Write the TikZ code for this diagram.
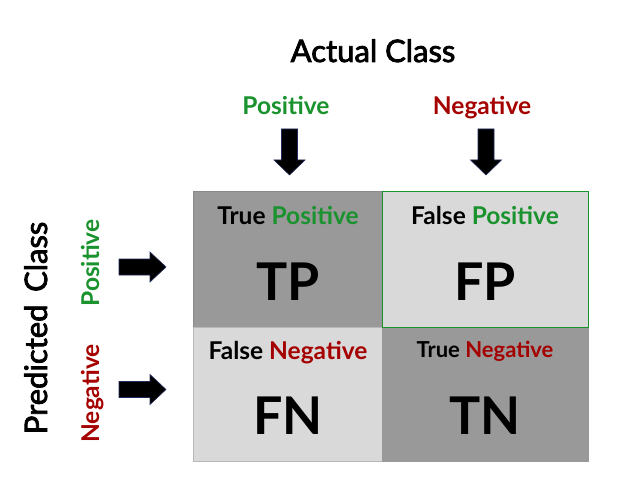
\documentclass[tikz,border=0pt]{standalone}
\usepackage{fontspec}
\setmainfont{Lato}[UprightFont=* Bold]
\newfontfamily\semib{Lato}[UprightFeatures={FakeBold=2.5}]
\definecolor{posgreen}{HTML}{1A922E}
\definecolor{negred}{HTML}{A50000}
\definecolor{darkcell}{HTML}{999999}
\definecolor{lightcell}{HTML}{D9D9D9}
\definecolor{arrowedge}{HTML}{1F2A5A}
\begin{document}
\begin{tikzpicture}[x=1pt,y=-1pt,
  lbl/.style={inner sep=0pt,anchor=base},
  small/.style={font=\fontsize{24.5}{28}\selectfont},
  big/.style={font=\fontsize{52}{60}\selectfont},
  head/.style={font=\semib\fontsize{31}{36}\selectfont},
  fatarrow/.style={fill=black,draw=arrowedge,line width=0.6pt}]
\useasboundingbox (0,0) rectangle (623,489);
% cells
\filldraw[fill=darkcell,draw=darkcell!90!black] (193,191) rectangle (382,327);
\filldraw[fill=lightcell,draw=lightcell!85!black] (193,327) rectangle (382,461);
\filldraw[fill=darkcell,draw=darkcell] (382,327) rectangle (588,461);
\filldraw[fill=lightcell,draw=posgreen,line width=0.8pt] (382,191) rectangle (588,327);
% titles
\node[lbl,head] (actual) at (373,62) {Actual Class};
\node[lbl,small,text=posgreen] (cpos) at (286,115) {Positive};
\node[lbl,small,text=negred] (cneg) at (482,115) {Negative};
\node[lbl,rotate=90,head] (pred) at (47,328) {Predicted\hspace{0.15em} Class};
\node[lbl,rotate=90,small,text=posgreen] (rpos) at (99,263) {Positive};
\node[lbl,rotate=90,small,text=negred] (rneg) at (99,393.5) {Negative};
% cell texts
\node[lbl,small] (tpl) at (288,224) {True \textcolor{posgreen}{Positive}};
\node[lbl,small] (fpl) at (485,224) {False \textcolor{posgreen}{Positive}};
\node[lbl,small] (fnl) at (288,359) {False \textcolor{negred}{Negative}};
\node[lbl,font=\fontsize{22}{26}\selectfont] (tnl) at (485,357) {True \textcolor{negred}{Negative}};
\node[lbl,big] (tp) at (288,300) {TP};
\node[lbl,big] (fp) at (485,300) {FP};
\node[lbl,big] (fn) at (288,434) {FN};
\node[lbl,big] (tn) at (485,434) {TN};
% down arrows
\foreach \cx in {289.5,486} {
  \draw[fatarrow] (\cx-8,129) -- (\cx+8,129) -- (\cx+8,160) -- (\cx+15.5,160)
     -- (\cx,175) -- (\cx-15.5,160) -- (\cx-8,160) -- cycle;
}
% right arrows
\foreach \cy in {267,389.5} {
  \draw[fatarrow] (119,\cy-8) -- (150,\cy-8) -- (150,\cy-15) -- (166,\cy)
     -- (150,\cy+15) -- (150,\cy+8) -- (119,\cy+8) -- cycle;
}
\end{tikzpicture}
\end{document}
